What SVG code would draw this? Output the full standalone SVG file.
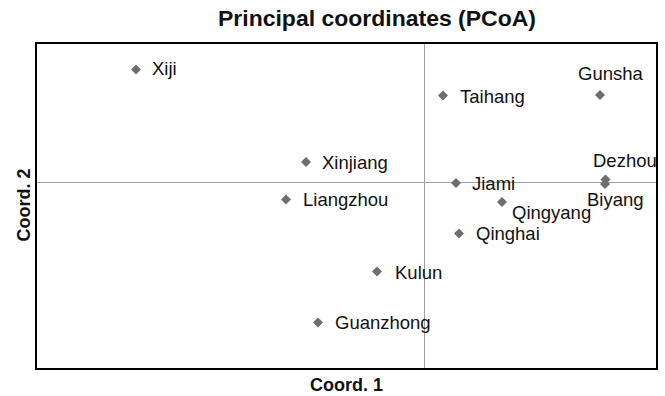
<svg xmlns="http://www.w3.org/2000/svg" width="665" height="396" viewBox="0 0 665 396">
<style>
.title{font-family:"Liberation Sans",Arial,sans-serif;font-weight:bold;font-size:22px;fill:#111}
.axl{font-family:"Liberation Sans",Arial,sans-serif;font-weight:bold;font-size:18px;fill:#111}
.lbl{font-family:"Liberation Sans",Arial,sans-serif;font-size:18.5px;fill:#111}
.pt{fill:#6e6e6e}
.ref{stroke:#a0a0a0;stroke-width:1;fill:none}
.frame{stroke:#000;stroke-width:2;fill:none}
</style>
<defs>
<path id="dm" class="pt" d="M0,-5 L5,0 L0,5 L-5,0 Z"/>
</defs>
<rect width="665" height="396" fill="#fff"/>
<text class="title" x="377" y="25.5" text-anchor="middle" textLength="318" lengthAdjust="spacingAndGlyphs">Principal  coordinates (PCoA)</text>
<g id="axes">
<line class="ref" x1="424.5" y1="44" x2="424.5" y2="368"/>
<line class="ref" x1="36" y1="182.5" x2="656" y2="182.5"/>
<rect class="frame" x="36" y="43" width="621" height="326"/>
<text class="axl" x="346.5" y="390.5" text-anchor="middle">Coord. 1</text>
<text class="axl" transform="translate(29.5,205) rotate(-90)" text-anchor="middle">Coord. 2</text>
</g>
<g id="Xiji"><use href="#dm" x="136" y="69.5"/><text class="lbl" x="152" y="75">Xiji</text></g>
<g id="Taihang"><use href="#dm" x="443" y="95.5"/><text class="lbl" x="460" y="103">Taihang</text></g>
<g id="Gunsha"><use href="#dm" x="600" y="95"/><text class="lbl" x="578" y="80">Gunsha</text></g>
<g id="Xinjiang"><use href="#dm" x="306" y="162"/><text class="lbl" x="322" y="168.5">Xinjiang</text></g>
<g id="Liangzhou"><use href="#dm" x="286" y="199.5"/><text class="lbl" x="303" y="206">Liangzhou</text></g>
<g id="Jiami"><use href="#dm" x="456" y="183"/><text class="lbl" x="472" y="190">Jiami</text></g>
<g id="Dezhou"><use href="#dm" x="605.5" y="179.5"/><text class="lbl" x="593" y="166.5">Dezhou</text></g>
<g id="Biyang"><use href="#dm" x="605" y="184"/><text class="lbl" x="587" y="206">Biyang</text></g>
<g id="Qingyang"><use href="#dm" x="502" y="202"/><text class="lbl" x="512" y="218.5">Qingyang</text></g>
<g id="Qinghai"><use href="#dm" x="459" y="233.5"/><text class="lbl" x="476" y="240">Qinghai</text></g>
<g id="Kulun"><use href="#dm" x="377" y="271.5"/><text class="lbl" x="395" y="279">Kulun</text></g>
<g id="Guanzhong"><use href="#dm" x="318" y="322.5"/><text class="lbl" x="335" y="329">Guanzhong</text></g>
<g id="connectors"></g>
</svg>
